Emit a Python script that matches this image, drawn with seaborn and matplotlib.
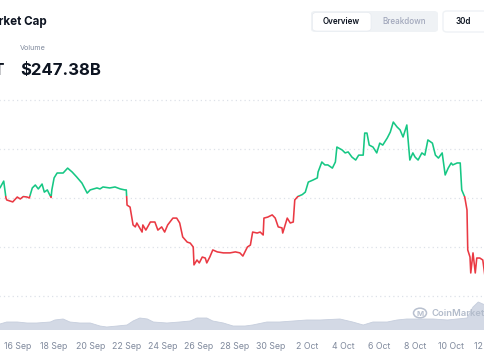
import numpy as np
import pandas as pd
import matplotlib
matplotlib.use("Agg")
import matplotlib.pyplot as plt
import matplotlib.transforms as mtransforms
from matplotlib.patches import Rectangle, FancyBboxPatch, Circle
import seaborn as sns

# ---------------- data ----------------
start = pd.Timestamp("2025-09-15 00:00")
# hours after start, total market cap in $B
cap_hours = [0, 5, 8, 9, 17, 23, 27, 31, 36, 39, 43, 47, 51, 56, 59, 63, 65, 68, 69, 72,
             76, 78, 84, 90, 96, 102, 109, 116, 120, 129, 133, 137, 146, 153, 160, 166, 168, 169, 173, 177,
             180, 182, 185, 189, 190, 194, 200, 206, 210, 215, 219, 223, 230, 235, 239, 243, 249, 253, 257, 258,
             262, 265, 269, 273, 275, 279, 283, 289, 297, 306, 313, 319, 323, 329, 333, 336, 342, 346, 350, 351,
             356, 362, 366, 370, 375, 376, 382, 386, 390, 392, 396, 402, 406, 410, 416, 422, 423, 428, 432, 436,
             442, 446, 448, 455, 459, 463, 468, 473, 477, 483, 485, 488, 491, 496, 501, 505, 509, 515, 519, 523,
             528, 532, 536, 541, 545, 549, 552, 556, 561, 565, 569, 575, 579, 583, 588, 592, 596, 600, 602, 608,
             612, 614, 618, 621, 622, 625, 626, 629, 632, 634, 638, 642, 645]
cap_values = [4041, 4069, 4000, 3992, 3984, 4004, 3996, 4006, 4004, 4000, 4041, 4053, 4037, 4057, 4024, 4033, 4020, 4002, 4033, 4082,
              4102, 4102, 4102, 4122, 4106, 4086, 4061, 4020, 4033, 4041, 4037, 4045, 4041, 4045, 4037, 4033, 4033, 3971, 3963, 3890,
              3882, 3898, 3882, 3861, 3890, 3869, 3902, 3902, 3869, 3882, 3861, 3890, 3918, 3918, 3898, 3841, 3820, 3816, 3800, 3727,
              3747, 3735, 3759, 3755, 3735, 3759, 3788, 3780, 3776, 3776, 3780, 3776, 3763, 3800, 3808, 3861, 3857, 3861, 3849, 3918,
              3922, 3931, 3918, 3882, 3878, 3857, 3918, 3898, 3902, 3992, 4006, 4014, 4024, 4065, 4073, 4082, 4106, 4147, 4135, 4135,
              4122, 4147, 4208, 4196, 4184, 4188, 4167, 4155, 4175, 4175, 4265, 4265, 4216, 4208, 4184, 4224, 4216, 4245, 4269, 4310,
              4290, 4278, 4249, 4298, 4155, 4184, 4167, 4155, 4184, 4175, 4237, 4224, 4175, 4163, 4184, 4094, 4122, 4143, 4135, 4143,
              4143, 4033, 4004, 3951, 3788, 3759, 3694, 3776, 3694, 3755, 3755, 3747, 3678]
baseline_value = 4010

# hours after start, volume in $B
vol_hours = [0, 9, 23, 36, 49, 67, 73, 84, 93, 106, 120, 133, 142, 156, 169, 177, 186, 196, 204, 222,
             239, 253, 262, 275, 283, 297, 310, 326, 336, 355, 372, 390, 408, 426, 452, 469, 483, 496, 515, 528,
             541, 559, 576, 595, 621, 629, 636, 645]
vol_values = [120, 160, 160, 140, 140, 160, 200, 220, 160, 140, 140, 80, 60, 80, 100, 180, 240, 220, 160, 140,
              160, 180, 240, 240, 180, 140, 80, 80, 100, 160, 160, 180, 200, 200, 220, 160, 100, 160, 160, 200,
              220, 220, 220, 200, 240, 460, 560, 500]

tick_dates = ["2025-09-16", "2025-09-18", "2025-09-20", "2025-09-22", "2025-09-24", "2025-09-26",
              "2025-09-28", "2025-09-30", "2025-10-02", "2025-10-04", "2025-10-06", "2025-10-08",
              "2025-10-10", "2025-10-12"]
tick_labels = ["16 Sep", "18 Sep", "20 Sep", "22 Sep", "24 Sep", "26 Sep", "28 Sep", "30 Sep",
               "2 Oct", "4 Oct", "6 Oct", "8 Oct", "10 Oct", "12 Oct"]
grid_values = [3600, 3800, 4000, 4200, 4400]

# ---------------- style ----------------
sns.set_theme(style="white")
plt.rcParams["font.family"] = ["Inter", "DejaVu Sans"]

W, H = 485, 360
fig = plt.figure(figsize=(W / 100, H / 100), dpi=100)
fig.patch.set_facecolor("white")

cap_df = pd.DataFrame({"time": start + pd.to_timedelta(cap_hours, unit="h"), "cap": cap_values})
vol_df = pd.DataFrame({"time": start + pd.to_timedelta(vol_hours, unit="h"), "vol": vol_values})

px_per_h = 18.05 / 24
x_left_px, x_right_px = -10, 500
xlim = (start + pd.Timedelta(hours=(x_left_px + 0.05) / px_per_h),
        start + pd.Timedelta(hours=(x_right_px + 0.05) / px_per_h))

def frac_x(px):
    return px / W

def fy(py):
    return (H - py) / H

# main axes: 3590..4410 -> px 298.45 .. 97.55
top_px, bot_px = 97.55, 298.45
ax = fig.add_axes([frac_x(x_left_px), (H - bot_px) / H,
                   (x_right_px - x_left_px) / W, (bot_px - top_px) / H])
ax.set_facecolor("none")

green = "#16c784"
red = "#ea3943"
sns.lineplot(data=cap_df, x="time", y="cap", ax=ax, color=green, lw=1.15)
sns.lineplot(data=cap_df, x="time", y="cap", ax=ax, color=red, lw=1.15)
blend = mtransforms.blended_transform_factory(ax.transAxes, ax.transData)
clip_up = Rectangle((0, baseline_value), 1, 5000, transform=blend, facecolor="none")
clip_dn = Rectangle((0, baseline_value - 5000), 1, 5000, transform=blend, facecolor="none")
ax.lines[0].set_clip_path(clip_up)
ax.lines[1].set_clip_path(clip_dn)

ax.set_xlim(*xlim)
ax.set_ylim(3590, 4410)
for gv in grid_values:
    ax.axhline(gv, color="#dde1e8", lw=0.9, ls=(0, (1, 2.5)), zorder=0)
ax.set_xticks([])
ax.set_yticks([])
ax.set_xlabel("")
ax.set_ylabel("")
for s in ax.spines.values():
    s.set_visible(False)

# volume axes: px 330 (0) .. 280 (1000)
vax = fig.add_axes([frac_x(x_left_px), (H - 330) / H, (x_right_px - x_left_px) / W, 50 / H])
vax.set_facecolor("none")
vax.fill_between(vol_df["time"], 0, vol_df["vol"], color="#d3d9e5", lw=0)
sns.lineplot(data=vol_df, x="time", y="vol", ax=vax, color="#c6cedd", lw=0.6)
vax.set_xlim(*xlim)
vax.set_ylim(0, 1000)
vax.set_yticks([])
vax.set_ylabel("")
vax.set_xlabel("")
vax.set_xticks(pd.to_datetime(tick_dates))
vax.set_xticklabels(tick_labels)
vax.tick_params(axis="x", length=0, pad=8.5, labelsize=6.3, colors="#808a9d")
for s in vax.spines.values():
    s.set_visible(False)

# watermark
wm = Circle((420 / W, fy(313)), 6.5 / W, transform=fig.transFigure, facecolor="none",
            edgecolor="#b8c0cf", lw=1.1)
fig.patches.append(wm)
fig.text(420 / W, fy(313.5), "M", ha="center", va="center", fontsize=5.5, color="#b8c0cf",
         fontweight="bold")
fig.text(432 / W, fy(313), "CoinMarketCap", ha="left", va="center", fontsize=6.8,
         color="#b3bccb", fontweight="semibold")

# header texts
fig.text(-19 / W, fy(22), "Market Cap", ha="left", va="center", fontsize=8.4,
         color="#0d1421", fontweight="bold")
fig.text(20 / W, fy(48), "Volume", ha="left", va="center", fontsize=5.2, color="#808a9d")
fig.text(20 / W, fy(70), "$247.38B", ha="left", va="center", fontsize=12.0,
         color="#0d1421", fontweight="bold")
fig.text(5 / W, fy(70), "$4.01T", ha="right", va="center", fontsize=12.0,
         color="#0d1421", fontweight="bold")

# buttons
def rbox(x0, y0, x1, y1, fc, ec="none", lw=0, r=4):
    p = FancyBboxPatch((x0 / W, fy(y1)), (x1 - x0) / W, (y1 - y0) / H,
                       boxstyle=f"round,pad=0,rounding_size={r / W}",
                       transform=fig.transFigure, facecolor=fc, edgecolor=ec, lw=lw)
    fig.patches.append(p)

rbox(311, 11, 438, 32, "#eff2f5")
rbox(312.5, 12.5, 371, 31, "white", ec="#e4e8ee", lw=0.4)
fig.text(341 / W, fy(21.7), "Overview", ha="center", va="center", fontsize=5.8,
         color="#0d1421", fontweight="semibold")
fig.text(404 / W, fy(21.7), "Breakdown", ha="center", va="center", fontsize=5.8,
         color="#a1a7bb", fontweight="medium")
rbox(443, 11, 495, 32, "white", ec="#eff2f5", lw=1.0)
fig.text(463 / W, fy(21.7), "30d", ha="center", va="center", fontsize=5.8,
         color="#0d1421", fontweight="semibold")

fig.savefig("out.png", dpi=100)
